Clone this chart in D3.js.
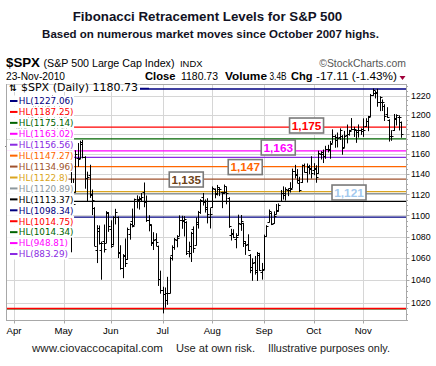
<!DOCTYPE html>
<html><head><meta charset="utf-8">
<script src="https://cdn.jsdelivr.net/npm/d3@7"></script>
<style>body{margin:0;background:#fff}svg{display:block}</style>
</head><body><svg id="c" width="436" height="366"></svg>
<script>
const dates = [
"2010-03-29","2010-03-30","2010-03-31",
"2010-04-01","2010-04-05","2010-04-06","2010-04-07","2010-04-08","2010-04-09","2010-04-12","2010-04-13","2010-04-14","2010-04-15","2010-04-16","2010-04-19","2010-04-20","2010-04-21","2010-04-22","2010-04-23","2010-04-26","2010-04-27","2010-04-28","2010-04-29","2010-04-30",
"2010-05-03","2010-05-04","2010-05-05","2010-05-06","2010-05-07","2010-05-10","2010-05-11","2010-05-12","2010-05-13","2010-05-14","2010-05-17","2010-05-18","2010-05-19","2010-05-20","2010-05-21","2010-05-24","2010-05-25","2010-05-26","2010-05-27","2010-05-28",
"2010-06-01","2010-06-02","2010-06-03","2010-06-04","2010-06-07","2010-06-08","2010-06-09","2010-06-10","2010-06-11","2010-06-14","2010-06-15","2010-06-16","2010-06-17","2010-06-18","2010-06-21","2010-06-22","2010-06-23","2010-06-24","2010-06-25","2010-06-28","2010-06-29","2010-06-30",
"2010-07-01","2010-07-02","2010-07-06","2010-07-07","2010-07-08","2010-07-09","2010-07-12","2010-07-13","2010-07-14","2010-07-15","2010-07-16","2010-07-19","2010-07-20","2010-07-21","2010-07-22","2010-07-23","2010-07-26","2010-07-27","2010-07-28","2010-07-29","2010-07-30",
"2010-08-02","2010-08-03","2010-08-04","2010-08-05","2010-08-06","2010-08-09","2010-08-10","2010-08-11","2010-08-12","2010-08-13","2010-08-16","2010-08-17","2010-08-18","2010-08-19","2010-08-20","2010-08-23","2010-08-24","2010-08-25","2010-08-26","2010-08-27","2010-08-30","2010-08-31",
"2010-09-01","2010-09-02","2010-09-03","2010-09-07","2010-09-08","2010-09-09","2010-09-10","2010-09-13","2010-09-14","2010-09-15","2010-09-16","2010-09-17","2010-09-20","2010-09-21","2010-09-22","2010-09-23","2010-09-24","2010-09-27","2010-09-28","2010-09-29","2010-09-30",
"2010-10-01","2010-10-04","2010-10-05","2010-10-06","2010-10-07","2010-10-08","2010-10-11","2010-10-12","2010-10-13","2010-10-14","2010-10-15","2010-10-18","2010-10-19","2010-10-20","2010-10-21","2010-10-22","2010-10-25","2010-10-26","2010-10-27","2010-10-28","2010-10-29",
"2010-11-01","2010-11-02","2010-11-03","2010-11-04","2010-11-05","2010-11-08","2010-11-09","2010-11-10","2010-11-11","2010-11-12","2010-11-15","2010-11-16","2010-11-17","2010-11-18","2010-11-19","2010-11-22","2010-11-23"];

const opens = [
1167.7,1173.8,1171.8,
1171.2,1178.7,1186.0,1188.2,1181.8,1187.5,1194.9,1195.9,1198.7,1210.8,1210.2,1192.1,1199.0,1207.2,1202.5,1207.9,1217.1,1211.4,1184.6,1193.3,1206.8,
1188.6,1197.5,1169.2,1164.4,1127.0,1122.3,1156.4,1155.4,1170.0,1157.2,1136.5,1138.8,1119.6,1107.3,1067.3,1084.8,1067.4,1075.5,1074.3,1102.6,
1087.3,1073.0,1098.8,1098.4,1065.8,1050.8,1062.8,1058.8,1082.7,1095.0,1091.2,1114.0,1115.9,1116.2,1122.8,1113.9,1095.6,1090.9,1075.1,1077.5,1071.1,1040.6,
1031.1,1027.7,1028.1,1028.5,1062.9,1070.5,1077.2,1080.7,1095.6,1094.5,1093.9,1066.9,1064.5,1086.7,1072.1,1092.2,1102.9,1117.4,1112.8,1108.1,1098.4,
1107.5,1125.3,1121.1,1125.8,1122.1,1122.8,1122.9,1116.9,1081.5,1082.2,1077.6,1081.2,1092.1,1092.4,1073.6,1073.4,1063.2,1049.0,1056.3,1049.3,1062.9,1046.9,
1049.7,1080.7,1093.6,1102.6,1092.4,1101.2,1104.6,1113.4,1121.2,1119.4,1123.9,1126.4,1126.6,1142.8,1139.5,1131.1,1131.7,1148.6,1142.3,1146.8,1146.0,
1143.5,1145.0,1140.7,1159.8,1161.6,1158.4,1165.3,1164.3,1171.3,1177.8,1177.5,1176.8,1178.6,1166.7,1179.1,1180.5,1184.7,1184.9,1183.8,1184.5,1183.9,
1185.7,1187.9,1193.8,1198.3,1221.2,1223.2,1223.6,1213.1,1213.0,1209.1,1200.4,1194.8,1178.3,1183.8,1196.1,1198.1,1192.5];

const highs = [
1174.9,1177.8,1174.6,
1181.4,1187.7,1191.8,1189.6,1188.6,1194.7,1199.2,1199.0,1210.7,1213.9,1210.2,1197.9,1208.6,1210.0,1210.3,1217.3,1219.8,1211.4,1195.1,1209.4,1208.0,
1205.1,1197.5,1175.9,1167.6,1135.1,1163.2,1170.5,1172.9,1173.6,1157.2,1141.9,1148.7,1124.3,1107.3,1090.2,1089.9,1074.8,1090.8,1103.5,1102.6,
1094.8,1098.6,1105.7,1098.4,1071.4,1063.2,1077.7,1087.9,1092.0,1105.9,1115.6,1118.7,1117.7,1121.0,1131.2,1118.5,1099.6,1090.9,1083.6,1082.6,1071.1,1048.1,
1033.6,1032.9,1042.5,1060.9,1071.3,1078.2,1080.8,1099.5,1099.1,1098.7,1093.9,1074.7,1083.9,1089.0,1097.5,1103.7,1115.0,1121.0,1114.7,1115.9,1106.4,
1127.3,1125.4,1128.8,1126.6,1122.1,1129.2,1127.2,1116.9,1086.7,1086.3,1082.6,1100.1,1099.8,1092.4,1075.3,1081.6,1063.2,1059.4,1061.5,1065.2,1064.4,1055.1,
1081.3,1090.1,1105.1,1102.6,1103.3,1110.3,1110.9,1123.9,1127.4,1126.5,1125.4,1131.5,1144.9,1148.6,1144.4,1136.8,1148.9,1149.9,1150.0,1148.6,1157.2,
1150.3,1148.2,1162.8,1162.3,1163.9,1167.7,1168.7,1172.6,1184.4,1178.9,1181.2,1185.5,1178.6,1182.9,1189.4,1183.9,1196.1,1187.1,1183.8,1189.5,1185.5,
1195.8,1195.9,1198.3,1221.3,1227.1,1224.6,1226.8,1218.8,1215.5,1210.5,1207.4,1194.8,1183.6,1200.3,1200.0,1198.9,1192.5];

const lows = [
1167.7,1168.5,1169.2,
1170.7,1178.7,1182.8,1177.3,1175.1,1187.2,1194.7,1188.8,1198.7,1208.5,1186.8,1183.7,1199.0,1198.9,1190.2,1205.1,1211.1,1181.6,1181.8,1193.3,1186.7,
1188.6,1168.1,1158.2,1065.8,1094.2,1122.3,1147.7,1155.4,1156.1,1126.1,1114.0,1117.2,1100.7,1071.6,1055.9,1073.0,1040.8,1065.6,1074.3,1084.8,
1069.9,1072.0,1091.8,1060.5,1049.9,1042.2,1052.3,1058.8,1077.5,1089.0,1091.2,1107.1,1105.9,1113.9,1108.2,1094.2,1085.3,1071.6,1067.9,1071.5,1035.2,1028.3,
1010.9,1015.9,1018.4,1028.5,1058.2,1068.1,1070.4,1080.7,1087.7,1080.5,1063.3,1061.1,1056.9,1065.3,1072.1,1087.9,1101.8,1109.8,1103.1,1092.8,1088.0,
1107.5,1116.8,1119.5,1118.9,1107.3,1120.9,1111.0,1088.6,1076.7,1079.0,1069.5,1081.2,1085.8,1070.7,1063.4,1067.1,1046.7,1039.8,1045.4,1039.7,1048.8,1040.9,
1049.7,1080.4,1093.6,1091.2,1092.4,1101.2,1103.9,1113.4,1115.6,1114.6,1118.9,1122.4,1126.6,1136.2,1131.6,1122.8,1131.7,1142.0,1132.1,1140.3,1136.1,
1139.4,1131.9,1140.7,1154.9,1151.4,1155.6,1162.0,1155.7,1171.3,1166.7,1167.1,1174.6,1159.7,1166.7,1171.2,1179.0,1184.7,1177.7,1171.7,1177.1,1179.8,
1177.7,1187.9,1183.6,1198.3,1220.3,1217.6,1208.9,1204.3,1204.5,1194.1,1197.2,1173.0,1173.8,1183.8,1189.4,1184.3,1176.9];

const closes = [
1173.2,1173.3,1169.4,
1178.1,1187.4,1189.4,1182.5,1186.4,1194.4,1196.5,1197.3,1210.7,1211.7,1192.1,1197.5,1207.2,1205.9,1208.7,1217.3,1212.1,1183.7,1191.4,1206.8,1186.7,
1202.3,1173.6,1165.9,1128.2,1110.9,1159.7,1155.8,1171.7,1157.4,1135.7,1136.9,1120.8,1115.1,1071.6,1087.7,1073.7,1074.0,1068.0,1103.1,1089.4,
1070.7,1098.4,1102.8,1064.9,1050.5,1062.0,1055.7,1086.8,1091.6,1089.6,1115.2,1114.6,1116.0,1117.5,1113.2,1095.3,1092.0,1073.7,1076.8,1074.6,1041.2,1030.7,
1027.4,1022.6,1028.1,1060.3,1070.3,1078.0,1078.8,1095.3,1095.2,1096.5,1064.9,1071.3,1083.5,1069.6,1093.7,1102.7,1115.0,1113.8,1106.1,1101.5,1101.6,
1125.9,1120.5,1127.2,1125.8,1121.6,1127.8,1121.1,1089.5,1083.6,1079.3,1079.4,1092.5,1094.2,1075.6,1071.7,1067.4,1051.9,1055.3,1047.2,1064.6,1048.9,1049.3,
1080.3,1090.1,1104.5,1091.8,1098.9,1104.2,1109.6,1121.9,1121.1,1125.1,1124.7,1125.6,1142.7,1139.8,1134.3,1124.8,1148.7,1142.2,1147.7,1144.7,1141.2,
1146.2,1137.0,1160.8,1160.0,1158.1,1165.2,1165.3,1169.8,1178.1,1173.8,1176.2,1184.7,1165.9,1178.2,1180.3,1183.1,1185.6,1185.6,1182.5,1183.8,1183.3,
1184.4,1193.6,1198.0,1221.1,1225.9,1223.3,1213.4,1218.7,1213.5,1199.2,1197.8,1178.3,1178.6,1196.7,1199.7,1197.8,1180.7];

const levelValues = [1227.06,1187.25,1175.14,1163.02,1156.56,1147.27,1134.96,1122.8,1120.89,1113.37,1098.34,1014.75,1014.34,948.81,883.29];
const levelLabels = ["1227.06","1187.25","1175.14","1163.02","1156.56","1147.27","1134.96","1122.8","1120.89","1113.37","1098.34","1014.75","1014.34","948.81","883.29"];
const levelColors = ["#000080","#ff0000","#006400","#ff00ff","#8a2be2","#ff6600","#a0522d","#daa520","#8c979d","#000000","#000080","#ff0000","#006400","#ff00ff","#8a2be2"];

const monthLabels = ["Apr","May","Jun","Jul","Aug","Sep","Oct","Nov"];
const monthStarts = ["2010-04-01","2010-05-03","2010-06-01","2010-07-01","2010-08-02","2010-09-01","2010-10-01","2010-11-01"];
const yTicks = [1020,1040,1060,1080,1100,1120,1140,1160,1180,1200,1220];

const calloutLabels = ["1,175","1,163","1,147","1,135","1,121"];
const calloutValues = [1188.9,1166.5,1146.9,1134.6,1121.9];
const calloutDates = ["2010-09-28","2010-09-10","2010-08-20","2010-07-16","2010-10-22"];
const calloutColors = ["#ff0000","#ff00ff","#ff6600","#6e4318","#a3c9ee"];

const svg = d3.select("#c");
const L = 6.5, R = 406.5, T = 84.5, B = 320.5;
const x = d3.scalePoint().domain(dates).range([7, 400.9]);
const y = d3.scaleLog().domain([1004.7, 1232.4]).range([320, 84]);
const SANS = "'Liberation Sans', Arial, sans-serif";
const VER = "'DejaVu Sans', Verdana, sans-serif";
const cx = v => Math.round(v) + 0.5;

// Titles
svg.append("text").attr("x", 207.5).attr("y", 21).attr("text-anchor", "middle")
  .attr("font-family", SANS).attr("font-weight", "bold").attr("font-size", 13.3).attr("fill", "#121224")
  .text("Fibonacci Retracement Levels for S&P 500");
svg.append("text").attr("x", 210.5).attr("y", 37.5).attr("text-anchor", "middle")
  .attr("font-family", SANS).attr("font-weight", "bold").attr("font-size", 11.5).attr("fill", "#121224")
  .text("Based on numerous market moves since October 2007 highs.");

// Header
function t(txt, xx, yy, size, opts = {}) {
  const e = svg.append("text").attr("x", xx).attr("y", yy).attr("font-family", opts.family || SANS)
    .attr("font-size", size).attr("fill", opts.fill || "#000").text(txt);
  if (opts.bold) e.attr("font-weight", "bold");
  if (opts.anchor) e.attr("text-anchor", opts.anchor);
  if (opts.len) e.attr("textLength", opts.len).attr("lengthAdjust", "spacingAndGlyphs");
  return e;
}
t("$SPX", 6, 67, 13.3, {bold: true, len: 34});
t("(S&P 500 Large Cap Index)", 43.5, 67, 10.8, {len: 131});
t("INDX", 180, 67, 9.4);
t("\u00a9StockCharts.com", 406, 67, 10.4, {anchor: "end", fill: "#555"});
t("23-Nov-2010", 6, 80, 10.2, {len: 59});
t("Close", 145, 80, 10.8, {bold: true, len: 30.5});
t("1180.73", 181, 80, 10.3, {len: 37});
t("Volume", 225, 80, 10.8, {bold: true, len: 42});
t("3.4B", 269.5, 80, 10.3, {len: 17});
t("Chg", 291, 80, 10.8, {bold: true, len: 21.5});
t("-17.11 (-1.43%)", 316, 80, 10.8, {len: 81});
svg.append("path").attr("d", "M399.5,76 L405.5,76 L402.5,80 Z").attr("fill", "#a0003a");

// Plot background and grid
svg.append("rect").attr("x", L).attr("y", T).attr("width", R - L).attr("height", B - T).attr("fill", "#fff");
const grid = svg.append("g").attr("stroke", "#d6d6d6").attr("stroke-width", 1);
grid.selectAll(".gy").data(yTicks).join("line")
  .attr("x1", L).attr("x2", R).attr("y1", d => cx(y(d))).attr("y2", d => cx(y(d)));
grid.selectAll(".gx").data(monthStarts).join("line")
  .attr("y1", T).attr("y2", B).attr("x1", d => cx(x(d))).attr("x2", d => cx(x(d)));

// Level lines (drawn in reverse so earlier entries sit on top)
const lv = levelValues.map((v, i) => ({v, c: levelColors[i], l: levelLabels[i], i}))
  .filter(d => d.v >= y.domain()[0] && d.v <= y.domain()[1]);
svg.append("g").selectAll("line").data(lv.slice().reverse()).join("line")
  .attr("x1", L).attr("x2", R).attr("y1", d => y(d.v)).attr("y2", d => y(d.v))
  .attr("stroke", d => d.c).attr("stroke-width", 1.3);

// OHLC bars
const bars = svg.append("g").attr("stroke", "#000").attr("stroke-width", 1).attr("fill", "none");
bars.selectAll("path").data(dates).join("path")
  .attr("d", (d, i) => {
    const X = cx(x(d));
    const yh = y(highs[i]), yl = y(lows[i]), yo = cx(y(opens[i])), yc = cx(y(closes[i]));
    return `M${X},${yh - 0.5}V${yl + 0.5}M${X - 2},${yo}H${X}M${X},${yc}H${X + 2}`;
  });

// Plot border
svg.append("rect").attr("x", L).attr("y", T).attr("width", R - L).attr("height", B - T)
  .attr("fill", "none").attr("stroke", "#a8a8a8").attr("stroke-width", 1);

// Right axis
const ax = svg.append("g");
const minor = d3.range(1005, 1235, 5).filter(v => y(v) > T && y(v) < B);
ax.selectAll(".mt").data(minor).join("line")
  .attr("x1", R).attr("x2", d => R + (d % 20 === 0 ? 3 : 1.5))
  .attr("y1", d => cx(y(d))).attr("y2", d => cx(y(d))).attr("stroke", "#a8a8a8");
ax.selectAll("text").data(yTicks).join("text")
  .attr("x", 411).attr("y", d => y(d) + 3.2).attr("font-family", SANS).attr("font-size", 8.8)
  .attr("fill", "#000").text(d => d);

// Bottom axis
const bx = svg.append("g");
bx.selectAll("line").data(monthStarts).join("line")
  .attr("x1", d => cx(x(d))).attr("x2", d => cx(x(d))).attr("y1", B).attr("y2", B + 3)
  .attr("stroke", "#a8a8a8");
bx.selectAll("text").data(monthStarts).join("text")
  .attr("x", d => x(d)).attr("y", 333.5).attr("text-anchor", "middle")
  .attr("font-family", SANS).attr("font-size", 9.6).attr("fill", "#000")
  .text((d, i) => monthLabels[i]);

// Callout boxes
const co = svg.append("g").selectAll("g").data(calloutLabels).join("g")
  .attr("transform", (d, i) => `translate(${x(calloutDates[i])},${y(calloutValues[i])})`);
co.append("rect").attr("x", -17).attr("y", -7.5).attr("width", 34).attr("height", 15)
  .attr("fill", "#fff").attr("stroke", "#7a7a7a").attr("stroke-width", 1.6);
co.append("text").attr("text-anchor", "middle").attr("y", 4.3)
  .attr("font-family", SANS).attr("font-weight", "bold").attr("font-size", 11.8)
  .attr("fill", (d, i) => calloutColors[i]).text(d => d);

// Legend
const lg = svg.append("g");
const head = lg.append("g");
head.append("rect").attr("x", 7).attr("y", 84.5).attr("width", 133).attr("height", 7.5).attr("fill", "#fff");
head.append("text").attr("x", 9).attr("y", 90.5).attr("font-family", VER).attr("font-size", 9)
  .attr("font-weight", "bold").text("\u21C5");
head.append("text").attr("x", 21).attr("y", 90.6).attr("font-family", VER).attr("font-size", 10.6)
  .attr("fill", "#000").attr("textLength", 117).attr("lengthAdjust", "spacingAndGlyphs")
  .text("$SPX (Daily) 1180.73");
head.append("line").attr("x1", 140).attr("x2", 149).attr("y1", 88.5).attr("y2", 88.5)
  .attr("stroke", "#000080").attr("stroke-width", 1.5);

const rows = lg.selectAll(".row").data(levelLabels).join("g")
  .attr("transform", (d, i) => `translate(0,${101 + i * 10.93})`);
const rowRects = rows.append("rect").attr("x", 7).attr("y", -5.5).attr("height", 11).attr("fill", "#fff");
rows.append("line").attr("x1", 10).attr("x2", 17.5).attr("y1", 0).attr("y2", 0)
  .attr("stroke", (d, i) => levelColors[i]).attr("stroke-width", 2);
const rowTexts = rows.append("text").attr("x", 18.8).attr("y", 3.3).attr("font-family", VER)
  .attr("font-size", 8.8).attr("fill", (d, i) => levelColors[i]).text(d => `HL(${d})`);
rowTexts.each(function(d, i) {
  const w = this.getComputedTextLength();
  d3.select(rowRects.nodes()[i]).attr("width", 18.8 + w - 7 + 0.5);
});

// Footer
t("www.ciovaccocapital.com", 32, 352, 11.3, {fill: "#222", len: 131});
t("Use at own risk.", 176, 352, 11.3, {fill: "#222", len: 79});
t("Illustrative purposes only.", 268, 352, 11.3, {fill: "#222", len: 122});
</script></body></html>
